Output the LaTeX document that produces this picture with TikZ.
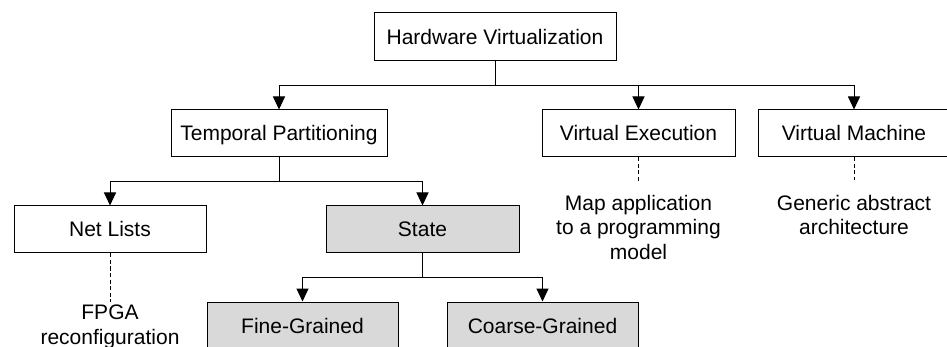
\documentclass[tikz,border=0pt]{standalone}
\usepackage{fontspec}
\setmainfont{Liberation Sans}
\usetikzlibrary{arrows.meta}
\definecolor{boxgray}{RGB}{217,217,217}
\tikzset{
  box/.style={draw=black, line width=1pt, minimum height=47pt, inner sep=0pt,
    text height=15pt, text depth=0pt, font=\fontsize{21}{25}\selectfont},
  graybox/.style={box, fill=boxgray},
  arr/.style={line width=1pt, -{Triangle[width=12pt,length=13pt]}},
  plain/.style={line width=1pt},
  dashline/.style={line width=0.8pt, dash pattern=on 4pt off 2.5pt},
  note/.style={align=center, inner sep=0pt, font=\fontsize{21}{24.5}\selectfont, anchor=base}
}
\begin{document}
\begin{tikzpicture}[x=1pt,y=-1pt]
\useasboundingbox (0,0) rectangle (947,347);
\clip (0,0) rectangle (947,347);
\fill[white] (0,0) rectangle (947,347);
% boxes
\node[box, minimum width=242pt, minimum height=48pt] (hv) at (495,37) {Hardware Virtualization};
\node[box, minimum width=216pt] (tp) at (279,133.5) {Temporal Partitioning};
\node[box, minimum width=193pt] (ve) at (638.5,133.5) {Virtual Execution};
\node[box, minimum width=192pt] (vm) at (854,133.5) {Virtual Machine};
\node[box, minimum width=192pt] (nl) at (110,229.5) {Net Lists};
\node[graybox, minimum width=193pt] (st) at (422.5,229.5) {State};
\node[graybox, minimum width=191pt] (fg) at (302.5,325.5) {Fine-Grained};
\node[graybox, minimum width=191pt] (cg) at (542.5,325.5) {Coarse-Grained};
% tree connectors
\draw[plain] (hv.south) -- ++(0,24) coordinate (j1);
\draw[arr] (j1) -| (tp.north);
\draw[arr] (j1) -| (ve.north);
\draw[arr] (j1) -| (vm.north);
\draw[plain] (tp.south) -- ++(0,24) coordinate (j2);
\draw[arr] (j2) -| (nl.north);
\draw[arr] (j2) -| (st.north);
\draw[plain] (st.south) -- ++(0,24) coordinate (j3);
\draw[arr] (j3) -| (fg.north);
\draw[arr] (j3) -| (cg.north);
% notes
\coordinate (ved) at (638.5,182);
\coordinate (vmd) at (854,180);
\coordinate (nld) at (110,302);
\draw[dashline] (ve.south) -- (ved);
\draw[dashline] (vm.south) -- (vmd);
\draw[dashline] (nl.south) -- (nld);
% anchor=base of a multi-line node is the baseline of its last line
\node[note] (ven) at (638.5,259) {Map application\\to a programming\\model};
\node[note] (vmn) at (854,234.5) {Generic abstract\\architecture};
\node[note] (nln) at (110,344) {FPGA\\reconfiguration};
\end{tikzpicture}
\end{document}
